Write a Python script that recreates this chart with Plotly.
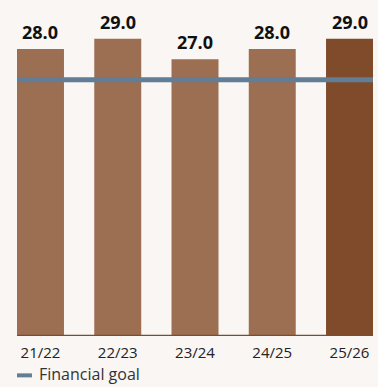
import plotly.graph_objects as go

# Fiscal years and the reported values
years = ["21/22", "22/23", "23/24", "24/25", "25/26"]
values = [28.0, 29.0, 27.0, 28.0, 29.0]
goal = 25.0
goal_label = "Financial goal"

bar_color = "#9c6e52"
latest_color = "#7f4b2b"
goal_color = "#627d96"
bg = "#f9f6f3"

colors = [bar_color] * (len(years) - 1) + [latest_color]
xs = list(range(len(years)))

fig = go.Figure()
fig.add_trace(go.Bar(
    x=xs,
    y=values,
    marker=dict(color=colors, line=dict(width=0)),
    showlegend=False,
    hoverinfo="skip",
))

# Value labels above each bar
for x, v in zip(xs, values):
    fig.add_annotation(x=x, y=v, xref="x", yref="y", text=f"<b>{v:.1f}</b>",
                       showarrow=False, yanchor="bottom", yshift=3,
                       font=dict(family="Open Sans", size=18, color="#111111"))

# Financial goal reference line across the plot
fig.add_shape(type="line", xref="paper", yref="y", x0=0, x1=1, y0=goal, y1=goal,
              line=dict(color=goal_color, width=5), layer="above")
# Baseline under the bars
fig.add_shape(type="line", xref="paper", yref="y", x0=0, x1=1, y0=0, y1=0,
              line=dict(color=latest_color, width=2.5), layer="above")

# Legend entry drawn below the axis
fig.add_shape(type="line", xref="paper", yref="paper", x0=-0.0, x1=0.042,
              y0=-0.12, y1=-0.12, line=dict(color=goal_color, width=4))
fig.add_annotation(xref="paper", yref="paper", x=0.058, y=-0.117, text=goal_label,
                   showarrow=False, xanchor="left", yanchor="middle",
                   borderpad=0,
                   font=dict(family="Open Sans", size=16, color="#333333"))

fig.update_layout(
    width=378, height=387,
    margin=dict(l=17, r=5, t=8, b=51),
    paper_bgcolor=bg, plot_bgcolor=bg,
    bargap=0.392,
    xaxis=dict(
        range=[-0.304, 4.304],
        tickmode="array", tickvals=xs, ticktext=years,
        showgrid=False, zeroline=False, showline=False, ticks="",
        tickfont=dict(family="Open Sans", size=15, color="#222222"),
        ticklabelstandoff=6,
    ),
    yaxis=dict(range=[0, 32], visible=False),
)

fig.write_html("out.html")
